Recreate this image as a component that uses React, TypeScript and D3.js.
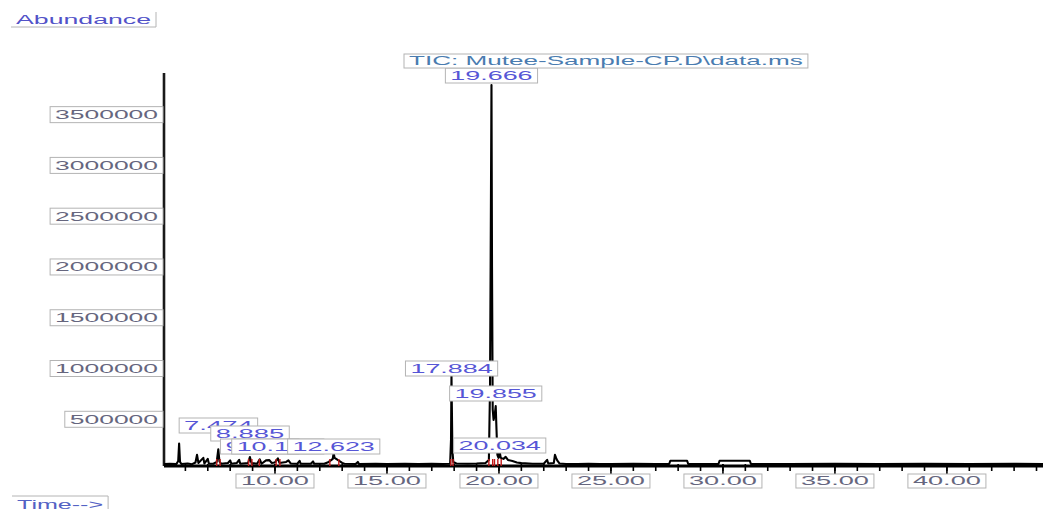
import React from 'react';
import * as d3 from 'd3';

// chromatogram trace (minutes, abundance)
const retentionTimes = [
  5.05, 5.3, 5.6, 5.68, 5.72, 5.76, 5.82, 6.1, 6.3, 6.45, 6.52, 6.58, 6.8, 6.85, 7.0, 7.05,
  7.25, 7.4, 7.47, 7.52, 7.6, 7.9, 8.0, 8.05, 8.3, 8.4, 8.45, 8.8, 8.88, 8.95, 9.2, 9.32,
  9.4, 9.6, 9.75, 9.85, 10.0, 10.13, 10.2, 10.5, 10.6, 10.7, 11.0, 11.1, 11.15, 11.6, 11.7,
  11.75, 12.2, 12.4, 12.58, 12.62, 12.66, 12.8, 13.0, 13.1, 13.6, 13.7, 13.75, 14.5, 15.0,
  15.8, 16.4, 17.0, 17.5, 17.82, 17.86, 17.88, 17.92, 17.96, 18.1, 18.6, 19.0, 19.4, 19.55,
  19.6, 19.63, 19.666, 19.69, 19.72, 19.76, 19.82, 19.855, 19.89, 19.93, 19.98, 20.034,
  20.08, 20.2, 20.3, 20.4, 20.6, 20.8, 21.0, 21.5, 22.0, 22.15, 22.2, 22.45, 22.5, 22.55,
  22.6, 22.7, 23.0, 23.5, 24.0, 24.5, 25.0, 26.0, 27.0, 27.6, 27.65, 28.4, 28.45, 29.0,
  29.8, 29.85, 31.2, 31.25, 33.0, 35.0, 37.0, 39.0, 41.0, 43.0, 44.29
];
const abundance = [
  60000, 62000, 60000, 90000, 262000, 80000, 60000, 64000, 58000, 75000, 150000, 70000, 120000, 65000, 110000, 62000,
  62000, 80000, 205000, 85000, 62000, 70000, 95000, 62000, 70000, 100000, 62000, 70000, 128000, 70000, 62000, 105000,
  62000, 95000, 98000, 70000, 75000, 115000, 70000, 80000, 95000, 65000, 62000, 90000, 62000, 62000, 85000,
  62000, 62000, 80000, 110000, 170000, 120000, 100000, 70000, 62000, 60000, 80000, 60000, 62000, 60000,
  62000, 60000, 62000, 60000, 62000, 300000, 936000, 200000, 80000, 65000, 62000, 65000, 70000, 100000,
  800000, 2098000, 3792000, 2000000, 600000, 493000, 560000, 630000, 400000, 150000, 120000, 178000,
  120000, 110000, 130000, 100000, 90000, 75000, 68000, 62000, 62000, 100000, 65000, 70000, 150000, 120000,
  95000, 65000, 60000, 60000, 62000, 60000, 60000, 61000, 60000, 60000, 92000, 92000, 60000, 60000,
  60000, 92000, 92000, 60000, 60000, 61000, 60000, 61000, 60000, 61000, 60000
];

const peakTimes = [7.474, 8.885, 9.318, 10.126, 12.623, 17.884, 19.666, 19.855, 20.034];
const peakNames = ['7.474', '8.885', '9.318', '10.126', '12.623', '17.884', '19.666', '19.855', '20.034'];
const integrationMarks = [7.4, 7.55, 8.82, 8.97, 9.3, 10.05, 10.22, 12.45, 12.85, 17.85, 17.95, 19.55, 19.72, 19.8, 19.95, 20.1];

const title = 'TIC: Mutee-Sample-CP.D\\data.ms';

// top edge of each peak label box, same order as peakTimes
const peakLabelTop = [418, 426, 439, 439, 439, 361, 68, 386, 438];

const W = 1043;
const H = 509;
const axisY = 466;
const font = '"Liberation Sans", Arial, sans-serif';
const boxStroke = '#b4b4b4';

const x = d3.scaleLinear().domain([5.045, 44.29]).range([164, 1043]);
const y = d3.scaleLinear().domain([40000, 3910000]).range([axisY, 73]);

function Box(props: { left: number; top: number; text: string; charW: number; color: string; h?: number; edges?: string }) {
  const { left, top, text, charW, color } = props;
  const h = props.h || 15;
  const tl = text.length * charW;
  const w = tl + 10;
  const edges = props.edges || 'all';
  return (
    <g>
      <rect x={left} y={top} width={w} height={h} fill="white" stroke={edges === 'all' ? boxStroke : 'none'} />
      {edges === 'br' && <path d={`M${left},${top + h}H${left + w}V${top}`} fill="none" stroke={boxStroke} />}
      {edges === 'tr' && <path d={`M${left},${top}H${left + w}V${top + h}`} fill="none" stroke={boxStroke} />}
      <text x={left + 5} y={top + h - 3.5} fontSize={12.5} fontFamily={font} fill={color}
        textLength={tl} lengthAdjust="spacingAndGlyphs">{text}</text>
    </g>
  );
}

export default function App() {
  const pts = retentionTimes.map((t, i) => [t, abundance[i]] as [number, number]);
  const line = d3.line<[number, number]>().x(d => x(d[0])).y(d => y(d[1]));
  const minor = x.ticks(40).filter(t => t > 5.05);
  const major = x.ticks(8).filter(t => t > 5.05);
  const yTicks = y.ticks(8).filter(v => v >= 500000);

  return (
    <svg width={W} height={H} style={{ position: 'absolute', left: 0, top: 0, background: 'white' }}>
      <Box left={11} top={12} text="Abundance" charW={15} color="#5252c8" edges="br" />
      <Box left={12} top={496} text="Time-->" charW={12.3} color="#5462c4" h={16} edges="tr" />

      {/* y axis */}
      <line x1={164} x2={164} y1={y.range()[1]} y2={axisY} stroke="#1a1a1a" strokeWidth={2.6} />
      {yTicks.map(v => {
        const s = String(v);
        const w = s.length * 14.7 + 12;
        return <Box key={v} left={165 - w} top={y(v) - 8} text={s} charW={14.7} color="#66667e" h={16} />;
      })}

      {/* x axis */}
      <line x1={164} x2={W} y1={axisY} y2={axisY} stroke="#000" strokeWidth={2.8} />
      {minor.map(t => (
        <line key={'m' + t} x1={x(t)} x2={x(t)} y1={axisY - 2} y2={axisY + 5} stroke="#000" strokeWidth={1.6} />
      ))}
      {major.map(t => (
        <line key={'M' + t} x1={x(t)} x2={x(t)} y1={axisY - 2} y2={axisY + 8} stroke="#000" strokeWidth={1.6} />
      ))}
      {major.map(t => {
        const s = t.toFixed(2);
        const w = s.length * 13.6 + 10;
        return <Box key={'l' + t} left={x(t) - w / 2} top={474} text={s} charW={13.6} color="#66667e" h={14} />;
      })}

      {/* trace */}
      <path d={line(pts) || ''} fill="none" stroke="#000" strokeWidth={2.1} strokeLinejoin="round" />
      {integrationMarks.map(t => (
        <line key={'r' + t} x1={x(t)} x2={x(t)} y1={axisY} y2={axisY - 7} stroke="#c01818" strokeWidth={1.4} />
      ))}

      {/* peak labels */}
      {peakTimes.map((t, i) => {
        const s = peakNames[i];
        const w = s.length * 13.7 + 10;
        return <Box key={'p' + i} left={x(t) - w / 2} top={peakLabelTop[i]} text={s} charW={13.7} color="#5656d6" />;
      })}
      <Box left={404} top={54} text={title} charW={13.13} color="#4a7cb0" h={14} />
    </svg>
  );
}
